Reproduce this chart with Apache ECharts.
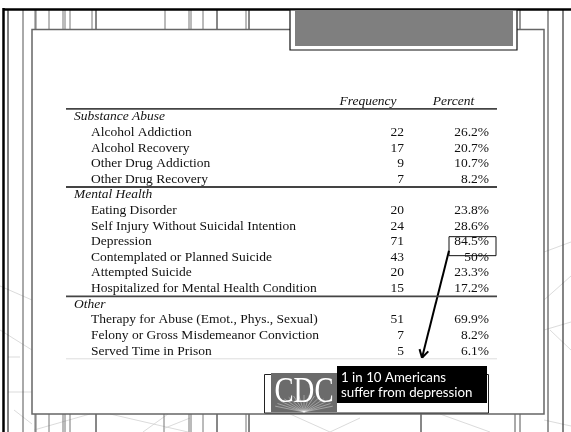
<!DOCTYPE html>
<html>
<head>
<meta charset="utf-8">
<script src="https://cdn.jsdelivr.net/npm/echarts/dist/echarts.min.js"></script>
<style>
html,body{margin:0;padding:0;background:#fff;}
#chart{width:571px;height:432px;}
</style>
</head>
<body>
<div id="chart"></div>
<script>
// ---------------- DATA ----------------
const columnHeaders = ['Frequency', 'Percent'];
const sectionNames = ['Substance Abuse', 'Mental Health', 'Other'];

const substanceItems = ['Alcohol Addiction', 'Alcohol Recovery', 'Other Drug Addiction', 'Other Drug Recovery'];
const substanceFrequency = [22, 17, 9, 7];
const substancePercent = [26.2, 20.7, 10.7, 8.2];

const mentalItems = ['Eating Disorder', 'Self Injury Without Suicidal Intention', 'Depression',
  'Contemplated or Planned Suicide', 'Attempted Suicide', 'Hospitalized for Mental Health Condition'];
const mentalFrequency = [20, 24, 71, 43, 20, 15];
const mentalPercent = [23.8, 28.6, 84.5, 50, 23.3, 17.2];

const otherItems = ['Therapy for Abuse (Emot., Phys., Sexual)', 'Felony or Gross Misdemeanor Conviction', 'Served Time in Prison'];
const otherFrequency = [51, 7, 5];
const otherPercent = [69.9, 8.2, 6.1];

const highlightedItem = 'Depression';
const calloutLines = ['1 in 10 Americans', 'suffer from depression'];
const logoText = 'CDC';

// ---------------- TABLE BUILD ----------------
function fmtPct(v) { return (Number.isInteger(v) ? String(v) : v.toFixed(1)) + '%'; }

const rows = [{ key: '__header', kind: 'header' }];
function addSection(name, items, freq, pct) {
  rows.push({ key: name, kind: 'section' });
  items.forEach((it, i) => rows.push({ key: it, kind: 'item', freq: freq[i], pct: pct[i] }));
}
addSection(sectionNames[0], substanceItems, substanceFrequency, substancePercent);
addSection(sectionNames[1], mentalItems, mentalFrequency, mentalPercent);
addSection(sectionNames[2], otherItems, otherFrequency, otherPercent);

const COLS = {
  section:    { x: 8,     align: 'left',   italic: true },
  item:       { x: 25,    align: 'left',   italic: false },
  freq:       { x: 338,   align: 'right',  italic: false },
  pct:        { x: 423,   align: 'right',  italic: false },
  freqHeader: { x: 302,   align: 'center', italic: true },
  pctHeader:  { x: 387.5, align: 'center', italic: true }
};
const X_MAX = 431;

const cells = [];
rows.forEach(r => {
  if (r.kind === 'header') {
    cells.push({ row: r.key, col: 'freqHeader', text: columnHeaders[0] });
    cells.push({ row: r.key, col: 'pctHeader', text: columnHeaders[1] });
  } else if (r.kind === 'section') {
    cells.push({ row: r.key, col: 'section', text: r.key });
  } else {
    cells.push({ row: r.key, col: 'item', text: r.key });
    cells.push({ row: r.key, col: 'freq', text: String(r.freq) });
    cells.push({ row: r.key, col: 'pct', text: fmtPct(r.pct) });
  }
});

const rules = [];
rows.forEach((r, i) => { if (r.kind === 'section') rules.push({ at: i, kind: 'dark' }); });
rules.push({ at: rows.length, kind: 'light' });

const FONT = '"Liberation Serif", "Times New Roman", serif';

// ---------------- DECOR ----------------
const decor = [];
function L(x1, y1, x2, y2, stroke, w) {
  decor.push({ type: 'line', silent: true, shape: { x1, y1, x2, y2 }, style: { stroke, lineWidth: w } });
}
// faint background web lines
const faint = '#d2d2d2';
L(0, 286, 32, 300, faint, 0.8); L(0, 330, 32, 350, faint, 0.8); L(8, 357, 20, 357, faint, 0.8);
L(8, 392, 32, 392, faint, 0.8); L(14, 410, 32, 424, faint, 0.8);
L(34, 430, 90, 414, faint, 0.8); L(110, 414, 188, 432, faint, 0.8); L(143, 432, 168, 414, faint, 0.8);
L(165, 428, 190, 418, faint, 0.8); L(290, 414, 330, 432, faint, 0.8); L(330, 432, 360, 418, faint, 0.8);
L(544, 252, 571, 242, faint, 0.8); L(544, 300, 571, 276, faint, 0.8); L(550, 330, 571, 350, faint, 0.8);
L(544, 330, 571, 322, faint, 0.8); L(544, 420, 571, 426, faint, 0.8); L(440, 414, 490, 432, faint, 0.8);

// full height verticals
L(3.5, 8, 3.5, 432, '#000', 2.5);
L(8, 10, 8, 432, '#000', 1);
L(23, 10, 23, 432, '#555', 1);
L(548, 10, 548, 432, '#555', 1.2);
L(563, 10, 563, 432, '#333', 1.2);
// top strip
[[35.5,'#888',2.2],[49,'#777',1],[63,'#777',1],[65,'#777',1],[70,'#777',1],[92,'#777',1],[96,'#111',1],
 [165,'#777',1],[189,'#777',1],[191,'#777',1],[203,'#777',1],[217,'#111',1],[246,'#777',1],[249,'#111',1],
 [520,'#333',1]].forEach(v => L(v[0], 10, v[0], 30, v[1], v[2]));
// bottom strip
[[35.5,'#888',2.2],[49,'#777',1],[63,'#777',1],[65,'#777',1],[70,'#777',1],[96,'#111',1],
 [164,'#777',1],[189,'#777',1],[191,'#777',1],[203,'#777',1],[217,'#111',1],[246,'#777',1],[249,'#111',1],
 [421,'#111',1],[515,'#555',1],[520,'#555',1]].forEach(v => L(v[0], 414, v[0], 432, v[1], v[2]));
// top black line
L(3, 9.5, 571, 9.5, '#000', 2.5);

// panel
decor.push({ type: 'rect', silent: true, shape: { x: 32, y: 29.5, width: 512, height: 384.5 },
  style: { fill: 'none', stroke: '#666', lineWidth: 1.5 } });
// title box
decor.push({ type: 'rect', silent: true, shape: { x: 290, y: 10, width: 227, height: 40 },
  style: { fill: '#fff', stroke: '#111', lineWidth: 1.2 } });
decor.push({ type: 'rect', silent: true, shape: { x: 295, y: 10, width: 218, height: 36 },
  style: { fill: '#7f7f7f' } });

// CDC block
decor.push({ type: 'rect', silent: true, shape: { x: 264.5, y: 374.5, width: 224, height: 38.5 },
  style: { fill: 'none', stroke: '#222', lineWidth: 1 } });
decor.push({ type: 'rect', silent: true, shape: { x: 271, y: 373, width: 66, height: 39 },
  style: { fill: '#6b6b6b' } });
for (let a = 200; a <= 340; a += 10) {
  const r = a * Math.PI / 180, len = 17;
  L(304, 412, 304 + Math.cos(r) * len * 1.8, 412 + Math.sin(r) * len, 'rgba(255,255,255,0.55)', 0.7);
}
decor.push({ type: 'text', silent: true, x: 304, y: 393, scaleX: 0.8, scaleY: 1,
  style: { text: logoText, x: 0, y: 0, align: 'center', verticalAlign: 'middle',
  fill: '#fff', font: '36px ' + FONT } });
decor.push({ type: 'rect', silent: true, shape: { x: 337, y: 366, width: 150, height: 37 }, style: { fill: '#000' } });
calloutLines.forEach((t, i) => decor.push({ type: 'text', silent: true,
  style: { text: t, x: 341, y: 377.5 + i * 15, align: 'left', verticalAlign: 'middle', fill: '#fff', font: '13.3px Lato, "Open Sans", sans-serif' } }));

// ---------------- CHART ----------------
const chart = echarts.init(document.getElementById('chart'), null, { renderer: 'canvas' });
const option = {
  animation: false,
  backgroundColor: '#fff',
  grid: { left: 66, right: 74, top: 93.3, bottom: 73.2 },
  xAxis: { type: 'value', min: 0, max: X_MAX, show: false },
  yAxis: [
    { type: 'category', data: rows.map(r => r.key), inverse: true, show: false },
    { type: 'value', min: 0, max: rows.length, inverse: true, show: false }
  ],
  series: [
    {
      type: 'custom', xAxisIndex: 0, yAxisIndex: 0, silent: true,
      data: cells.map(c => [COLS[c.col].x, c.row]),
      renderItem: (params, api) => {
        const c = cells[params.dataIndex];
        const col = COLS[c.col];
        const p = api.coord([api.value(0), api.value(1)]);
        return { type: 'text', x: p[0], y: p[1],
          style: { text: c.text, align: col.align, verticalAlign: 'middle', fill: '#111',
            font: (col.italic ? 'italic ' : '') + '13.5px ' + FONT } };
      }
    },
    {
      type: 'custom', xAxisIndex: 0, yAxisIndex: 1, silent: true,
      data: rules.map(r => [0, r.at]),
      renderItem: (params, api) => {
        const r = rules[params.dataIndex];
        const p1 = api.coord([0, api.value(1)]);
        const p2 = api.coord([X_MAX, api.value(1)]);
        return { type: 'line', shape: { x1: p1[0], y1: p1[1], x2: p2[0], y2: p2[1] },
          style: r.kind === 'dark' ? { stroke: '#444', lineWidth: 1.8 } : { stroke: '#dddddd', lineWidth: 1 } };
      }
    }
  ]
};
chart.setOption(option);

// annotation around highlighted percent, positioned from the axes
const dep = chart.convertToPixel({ seriesIndex: 0 }, [COLS.pct.x, highlightedItem]);
const bottom = chart.convertToPixel({ seriesIndex: 1 }, [0, rows.length]);
const annot = [];
annot.push({ type: 'rect', silent: true, shape: { x: dep[0] - 40, y: dep[1] - 5, width: 47, height: 19 },
  style: { fill: 'none', stroke: '#111', lineWidth: 1 } });
const sx = dep[0] - 40, sy = dep[1] + 9, tx = dep[0] - 67, ty = bottom[1] - 1;
annot.push({ type: 'line', silent: true, shape: { x1: sx, y1: sy, x2: tx, y2: ty }, style: { stroke: '#000', lineWidth: 2 } });
const dx = sx - tx, dy = sy - ty, dl = Math.hypot(dx, dy), ux = dx / dl, uy = dy / dl;
[30, -30].forEach(deg => {
  const r = deg * Math.PI / 180;
  const vx = ux * Math.cos(r) - uy * Math.sin(r), vy = ux * Math.sin(r) + uy * Math.cos(r);
  annot.push({ type: 'line', silent: true, shape: { x1: tx, y1: ty, x2: tx + vx * 9, y2: ty + vy * 9 },
    style: { stroke: '#000', lineWidth: 2 } });
});
chart.setOption({ graphic: { elements: decor.concat(annot) } });
</script>
</body>
</html>
